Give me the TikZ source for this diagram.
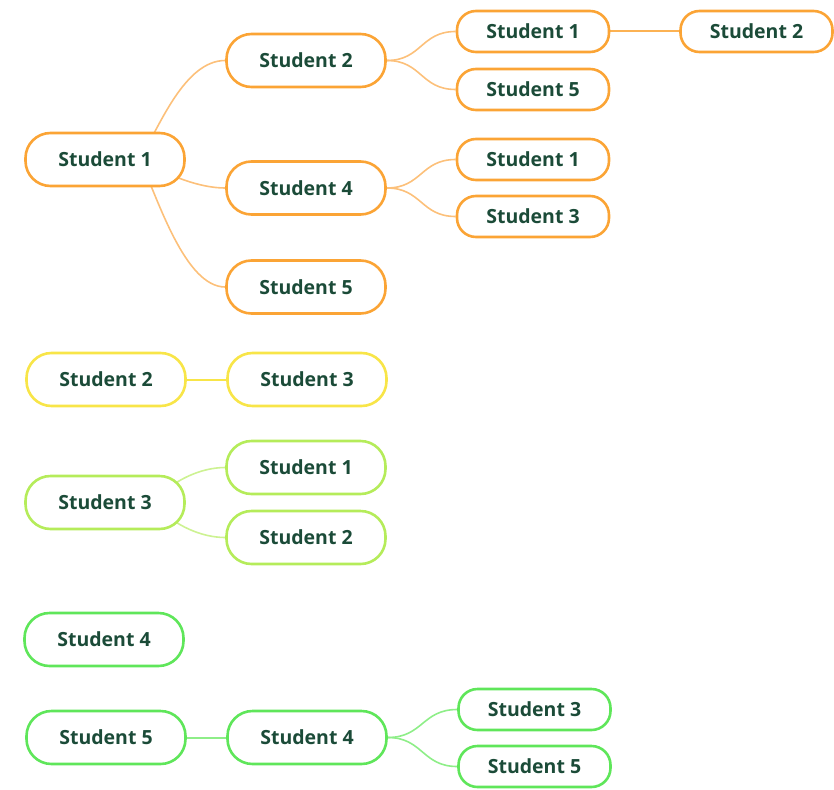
\documentclass[tikz,border=0pt]{standalone}
\usepackage{fontspec}
\setmainfont{Open Sans}
\usetikzlibrary{backgrounds,calc}
\definecolor{txt}{HTML}{1B4B38}
\definecolor{orng}{HTML}{FBA435}
\definecolor{orngl}{HTML}{FCC07A}
\definecolor{yel}{HTML}{F8E548}
\definecolor{lime}{HTML}{B5EC5A}
\definecolor{limel}{HTML}{CDF292}
\definecolor{grn}{HTML}{5FE65A}
\definecolor{grnl}{HTML}{8EEE88}
\begin{document}
\begin{tikzpicture}[x=1pt,y=-1pt,
  box/.style={draw, line width=2.6pt, rounded corners=25pt, fill=white, text=txt,
    font=\bfseries\fontsize{19.5}{22}\selectfont, minimum height=53pt, minimum width=159pt, inner sep=0pt},
  sbox/.style={box, minimum height=41pt, minimum width=152pt, rounded corners=19pt},
  ob/.style={draw=orng}, yb/.style={draw=yel}, lb/.style={draw=lime}, gb/.style={draw=grn},
  oc/.style={draw=orngl, line width=1.6pt},
  yc/.style={draw=yel, line width=2pt},
  lc/.style={draw=limel, line width=1.6pt},
  gc/.style={draw=grnl, line width=1.6pt},
  straight/.style={line width=2pt}]
\useasboundingbox (0,0) rectangle (834,789);
% orange tree
\node[box,ob] (o1) at (105,159.5) {Student 1};
\node[box,ob] (o2) at (306,60.5) {Student 2};
\node[box,ob] (o4) at (306,188) {Student 4};
\node[box,ob] (o5) at (306,287) {Student 5};
\node[sbox,ob] (o21) at (533,31.5) {Student 1};
\node[sbox,ob] (o25) at (533,89.5) {Student 5};
\node[sbox,ob] (o41) at (533,159.5) {Student 1};
\node[sbox,ob] (o43) at (533,216.5) {Student 3};
\node[sbox,ob] (o212) at (756.5,31.5) {Student 2};
% yellow
\node[box,yb] (y2) at (106,379.5) {Student 2};
\node[box,yb] (y3) at (307,379.5) {Student 3};
% lime
\node[box,lb] (l3) at (105,502.5) {Student 3};
\node[box,lb] (l31) at (306,467.5) {Student 1};
\node[box,lb] (l32) at (306,537.5) {Student 2};
% green
\node[box,gb] (g4) at (104,639.5) {Student 4};
\node[box,gb] (g5) at (106,737.5) {Student 5};
\node[box,gb] (g54) at (307,737.5) {Student 4};
\node[sbox,gb] (g543) at (534.5,709.5) {Student 3};
\node[sbox,gb] (g545) at (534.5,766.5) {Student 5};
\begin{scope}[on background layer]
\draw[oc] ($(o1.center)+(35,0)$) .. controls +(20,-35) and +(-40,0) .. (o2.west);
\draw[oc] ($(o1.center)+(35,0)$) .. controls +(30,17) and +(-25,0) .. (o4.west);
\draw[oc] ($(o1.center)+(35,0)$) .. controls +(18,40) and +(-40,0) .. (o5.west);
\draw[oc] (o2.east) .. controls +(35,0) and +(-35,0) .. (o21.west);
\draw[oc] (o2.east) .. controls +(35,0) and +(-35,0) .. (o25.west);
\draw[oc] (o4.east) .. controls +(35,0) and +(-35,0) .. (o41.west);
\draw[oc] (o4.east) .. controls +(35,0) and +(-35,0) .. (o43.west);
\draw[oc,straight,draw=orng!85] (o21.east) -- (o212.west);
\draw[yc] (y2.east) -- (y3.west);
\draw[lc] ($(l3.center)+(55,-7)$) .. controls +(15,-15) and +(-25,0) .. (l31.west);
\draw[lc] ($(l3.center)+(55,7)$) .. controls +(15,15) and +(-25,0) .. (l32.west);
\draw[gc,straight] (g5.east) -- (g54.west);
\draw[gc] (g54.east) .. controls +(35,0) and +(-35,0) .. (g543.west);
\draw[gc] (g54.east) .. controls +(35,0) and +(-35,0) .. (g545.west);
\end{scope}
\end{tikzpicture}
\end{document}
